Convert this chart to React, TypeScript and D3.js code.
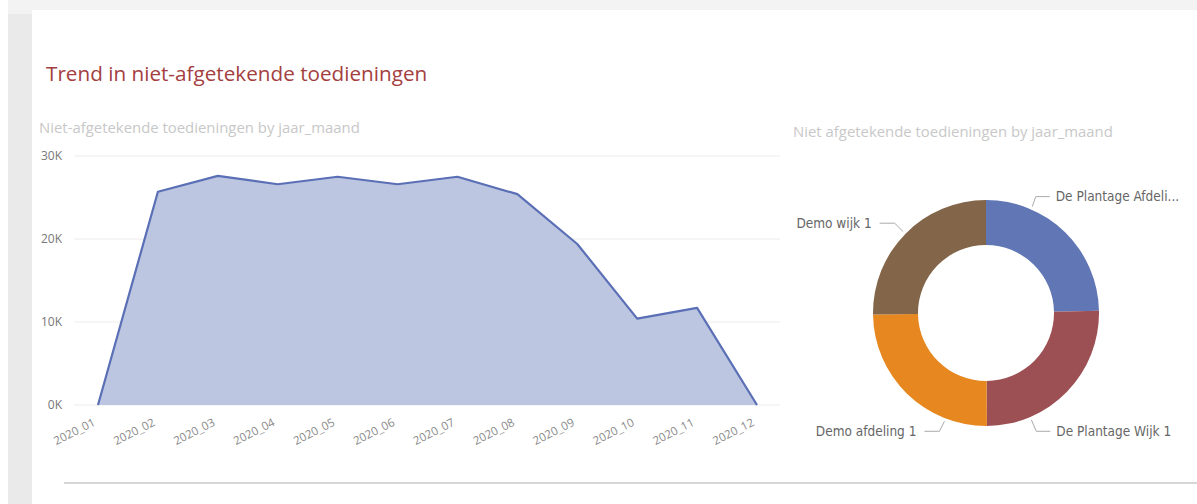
import React from "react";
import * as d3 from "d3";

const months = ["2020_01","2020_02","2020_03","2020_04","2020_05","2020_06","2020_07","2020_08","2020_09","2020_10","2020_11","2020_12"];
const values = [0, 25700, 27600, 26600, 27500, 26600, 27500, 25400, 19400, 10400, 11700, 0];
const yTicks = [0, 10000, 20000, 30000];
const segments = ["De Plantage Afdeling", "De Plantage Wijk 1", "Demo afdeling 1", "Demo wijk 1"];
const segmentLabels = ["De Plantage Afdeli...", "De Plantage Wijk 1", "Demo afdeling 1", "Demo wijk 1"];
const segmentValues = [56400, 57500, 56900, 57600];
const segmentColors = ["#6076b5", "#9c5053", "#e6871f", "#836649"];

const W = 1197, H = 504;

export default function App() {
  const x = d3.scalePoint<string>().domain(months).range([98, 757]);
  const y = d3.scaleLinear().domain([0, 30000]).range([405, 156]);
  const area = d3.area<number>().x((_, i) => x(months[i])!).y0(y(0)).y1(d => y(d));
  const line = d3.line<number>().x((_, i) => x(months[i])!).y(d => y(d));

  const cx = 986, cy = 313, rO = 113, rI = 68;
  const pie = d3.pie<number>().sort(null).value(d => d);
  const arcs = pie(segmentValues);
  const arcGen = d3.arc<d3.PieArcDatum<number>>().innerRadius(rI).outerRadius(rO);

  const font = "'Segoe UI', 'Open Sans', sans-serif";
  const labelFont = "'DejaVu Sans Condensed', 'DejaVu Sans', sans-serif";

  const leaders = [
    { a: 23.5, kdx: 3.5, kdy: -10 },
    { a: 157, kdx: 5, kdy: 11.5 },
    { a: 201, kdx: -5, kdy: 10 },
    { a: 314.5, kdx: -8.6, kdy: -8.5 },
  ];
  const labelPlace = arcs.map((_, i) => {
    const L = leaders[i];
    const ang = (L.a * Math.PI) / 180;
    const sx = cx + Math.sin(ang) * (rO + 3);
    const sy = cy - Math.cos(ang) * (rO + 3);
    const right = Math.sin(ang) > 0;
    const kx = sx + L.kdx;
    const ky = sy + L.kdy;
    const ex = kx + (right ? 14 : -15);
    return { sx, sy, kx, ky, ex, right };
  });

  return (
    <div style={{ position: "fixed", left: 0, top: 0 }}>
      <svg width={W} height={H} style={{ display: "block" }}>
        <rect x={0} y={0} width={W} height={H} fill="#ffffff" />
        <rect x={0} y={0} width={W} height={10} fill="#f3f3f3" />
        <rect x={0} y={0} width={8} height={H} fill="#ffffff" />
        <rect x={8} y={14} width={24} height={H - 14} fill="#eaeaea" />
        <rect x={8} y={10} width={24} height={4} fill="#f3f3f3" />

        <text x={46} y={81} fontFamily={font} fontSize={20.7} fill="#a3403f">Trend in niet-afgetekende toedieningen</text>
        <text x={39} y={133} fontFamily={font} fontSize={14.9} fill="#c8c8c8">Niet-afgetekende toedieningen by jaar_maand</text>
        <text x={793} y={137} fontFamily={font} fontSize={14.9} fill="#c8c8c8">Niet afgetekende toedieningen by jaar_maand</text>

        {yTicks.map(t => (
          <g key={t}>
            <line x1={74} x2={780} y1={y(t)} y2={y(t)} stroke="#ececec" strokeWidth={1} />
            <text x={62} y={y(t)} dy="0.35em" textAnchor="end" fontFamily={font} fontSize={12} fill="#777">{d3.format("d")(t / 1000) + "K"}</text>
          </g>
        ))}

        <path d={area(values)!} fill="#bcc6e0" />
        <path d={line(values)!} fill="none" stroke="#5a6fb5" strokeWidth={2.2} strokeLinejoin="round" />

        {months.map(m => (
          <g key={m} transform={`translate(${x(m)! - 2},${425})`}>
            <text transform="rotate(-27)" textAnchor="end" fontFamily={font} fontSize={11.5} fill="#8a8a8a">{m}</text>
          </g>
        ))}

        <line x1={64} x2={W} y1={483} y2={483} stroke="#c8c8c8" strokeWidth={1.5} />

        <g transform={`translate(${cx},${cy})`}>
          {arcs.map((a, i) => (
            <path key={segments[i]} d={arcGen(a)!} fill={segmentColors[i]} />
          ))}
        </g>

        {labelPlace.map((p, i) => (
          <g key={segments[i]}>
            <polyline points={`${p.sx},${p.sy} ${p.kx},${p.ky} ${p.ex},${p.ky}`} fill="none" stroke="#aaa" strokeWidth={1} />
            <text x={p.ex + (p.right ? 6 : -8)} y={p.ky} dy="0.35em" textAnchor={p.right ? "start" : "end"} fontFamily={labelFont} fontSize={13.5} fill="#666">{segmentLabels[i]}</text>
          </g>
        ))}
      </svg>
    </div>
  );
}
